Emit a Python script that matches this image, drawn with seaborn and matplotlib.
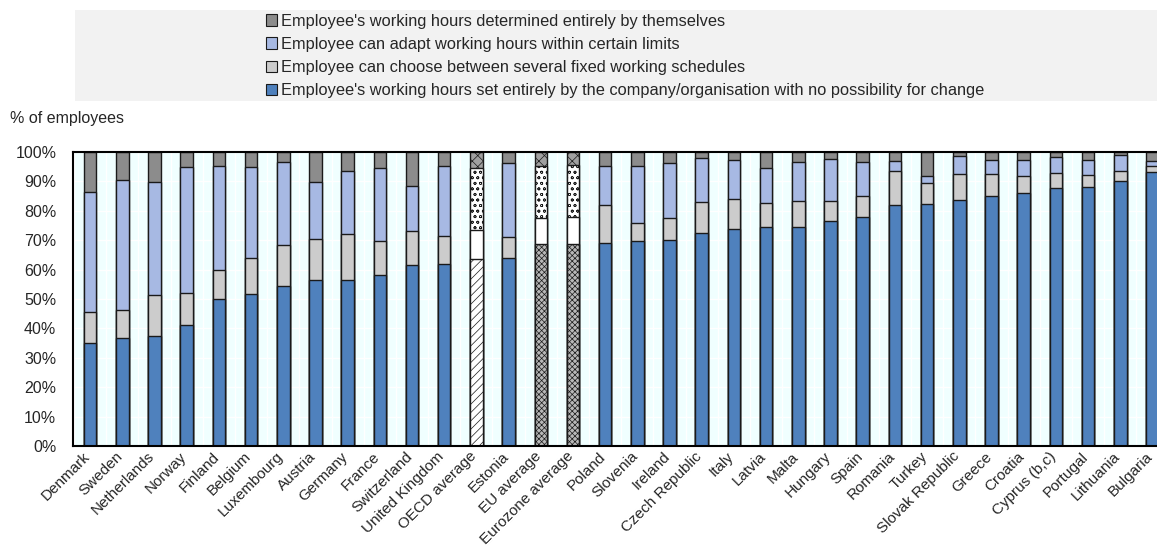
import numpy as np
import pandas as pd
import matplotlib
matplotlib.use("Agg")
import matplotlib.pyplot as plt
import matplotlib.transforms as mtransforms
from matplotlib.patches import Patch, Rectangle
from matplotlib.ticker import PercentFormatter, MultipleLocator, FixedLocator
import seaborn as sns

# ------------- data (share of employees, %) --------------
countries = ["Denmark", "Sweden", "Netherlands", "Norway", "Finland", "Belgium",
             "Luxembourg", "Austria", "Germany", "France", "Switzerland",
             "United Kingdom", "OECD average", "Estonia", "EU average",
             "Eurozone average", "Poland", "Slovenia", "Ireland", "Czech Republic",
             "Italy", "Latvia", "Malta", "Hungary", "Spain", "Romania", "Turkey",
             "Slovak Republic", "Greece", "Croatia", "Cyprus (b,c)", "Portugal",
             "Lithuania", "Bulgaria"]
set_by_company = [35.2, 36.8, 37.3, 41.0, 50.1, 51.8, 54.3, 56.4, 56.5, 58.3, 61.4,
                  61.9, 63.7, 64.0, 68.6, 68.7, 69.1, 69.7, 70.0, 72.4, 73.7, 74.5,
                  74.5, 76.5, 77.9, 82.1, 82.4, 83.8, 85.1, 86.0, 87.7, 88.1, 90.0, 93.3]
fixed_schedules = [10.5, 9.4, 14.2, 10.9, 9.8, 12.1, 13.9, 14.1, 15.5, 11.5, 11.6,
                   9.5, 9.7, 7.2, 8.9, 9.1, 12.9, 6.2, 7.4, 10.5, 10.4, 8.1,
                   8.7, 6.7, 7.0, 11.3, 6.9, 8.6, 7.3, 5.8, 5.3, 4.1, 3.6, 1.9]
adapt_within_limits = [40.7, 44.4, 38.4, 42.9, 35.2, 31.0, 28.3, 19.3, 21.6, 24.8, 15.5,
                       23.9, 21.2, 25.1, 17.8, 17.9, 13.3, 19.4, 18.9, 15.1, 13.3, 12.0,
                       13.4, 14.3, 11.8, 3.6, 2.5, 6.4, 5.0, 5.5, 5.3, 5.1, 5.3, 1.7]
by_themselves = [13.6, 9.4, 10.1, 5.2, 4.9, 5.1, 3.5, 10.2, 6.4, 5.4, 11.5,
                 4.7, 5.4, 3.7, 4.7, 4.3, 4.7, 4.7, 3.7, 2.0, 2.6, 5.4,
                 3.4, 2.5, 3.3, 3.0, 8.2, 1.2, 2.6, 2.7, 1.7, 2.7, 1.1, 3.1]

labels = ["Employee's working hours set entirely by the company/organisation with no possibility for change",
          "Employee can choose between several fixed working schedules",
          "Employee can adapt working hours within certain limits",
          "Employee's working hours determined entirely by themselves"]
colors = ["#4F81BD", "#CCCCCC", "#A7B9E3", "#8C8C8C"]
# patterns used for the average bars, one per layer (bottom to top)
avg_styles = {
    "OECD average": [("white", "////"), ("white", ""), ("white", "ooo"), ("#A0A0A0", "xxx")],
    "EU average": [("#B8B8B8", "xxxxxx"), ("white", ""), ("white", "ooo"), ("#A0A0A0", "xxx")],
    "Eurozone average": [("#B8B8B8", "xxxxxx"), ("white", ""), ("white", "ooo"), ("#A0A0A0", "xxx")],
}

df = pd.DataFrame({"country": countries, "s1": set_by_company, "s2": fixed_schedules,
                   "s3": adapt_within_limits, "s4": by_themselves})
tops = df[["s1", "s2", "s3", "s4"]].cumsum(axis=1)
tops.columns = ["top1", "top2", "top3", "top4"]
df = pd.concat([df, tops], axis=1)

# ------------- plot --------------
sns.set_style("white")
plt.rcParams["font.family"] = ["Liberation Sans", "DejaVu Sans"]
plt.rcParams["hatch.linewidth"] = 0.5

fig = plt.figure(figsize=(11.57, 5.55), dpi=100)
ax = fig.add_axes([73 / 1157, 109 / 555, 1084 / 1157, 294 / 555])
ax.set_facecolor("#F0FFFF")

# draw tallest layer first so each shorter layer sits on top (stacked look)
for i in [3, 2, 1, 0]:
    sns.barplot(data=df, x="country", y=f"top{i + 1}", color=colors[i], width=0.39,
                saturation=1, edgecolor="#1A1A1A", linewidth=1.0, ax=ax, zorder=2)
    for j, bar in enumerate(ax.containers[-1]):
        name = countries[j]
        if name in avg_styles:
            fc, hatch = avg_styles[name][i]
            bar.set_facecolor(fc)
            bar.set_hatch(hatch)

ax.set_xlim(-0.53, 33.14)
ax.set_ylim(0, 100)
ax.yaxis.set_major_locator(MultipleLocator(10))
ax.yaxis.set_major_formatter(PercentFormatter(decimals=0))
ax.set_xlabel("")
ax.set_ylabel("")

# white grid on the pale background
ax.xaxis.set_minor_locator(FixedLocator(np.arange(-0.5, len(countries), 1)))
ax.grid(axis="y", which="major", color="white", linewidth=1.0, zorder=0)
ax.grid(axis="x", which="minor", color="white", linewidth=1.0, zorder=0)
ax.set_axisbelow(True)

ax.tick_params(axis="x", which="major", length=0, pad=1)
ax.tick_params(axis="x", which="minor", direction="in", length=4, width=1, color="black")
ax.tick_params(axis="y", direction="in", length=4, width=1, color="black", labelsize=11.5, pad=12)
ax.set_xticks(range(len(countries)))
ax.set_xticklabels(countries, rotation=45, ha="right", rotation_mode="anchor", fontsize=11)
shift = mtransforms.ScaledTranslation(-7 / 100, -2 / 100, fig.dpi_scale_trans)
for lab in ax.get_xticklabels():
    lab.set_transform(lab.get_transform() + shift)

for s in ["left", "bottom", "top"]:
    ax.spines[s].set_color("black")
    ax.spines[s].set_linewidth(1.5)
ax.spines["right"].set_visible(False)

# ------------- legend on grey band --------------
fig.patches.append(Rectangle((75 / 1157, 1 - 101 / 555), 1082 / 1157, 91 / 555,
                             transform=fig.transFigure, facecolor="#F2F2F2",
                             edgecolor="none", zorder=0))
handles = [Patch(facecolor=colors[i], edgecolor="#1A1A1A", linewidth=0.8, label=labels[i])
           for i in [3, 2, 1, 0]]
fig.legend(handles=handles, loc="upper left", bbox_to_anchor=(264 / 1157, 1 - 12 / 555),
           frameon=False, fontsize=11.8, handlelength=0.7, handleheight=0.7,
           handletextpad=0.25, labelspacing=0.5, borderaxespad=0, borderpad=0.1)

fig.text(10 / 1157, 1 - 118 / 555, "% of employees", fontsize=11.5, va="center", ha="left")

plt.savefig("out.png", dpi=100)
